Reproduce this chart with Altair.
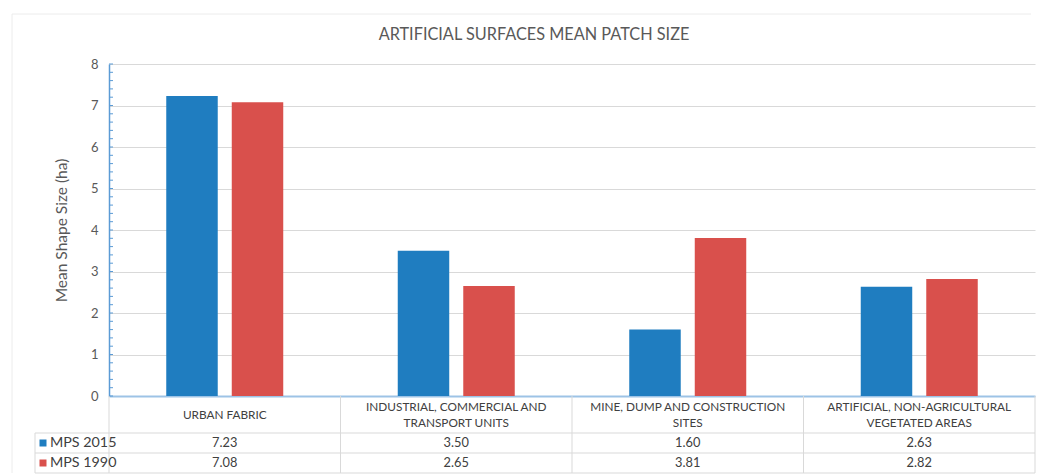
import altair as alt
import pandas as pd

# ---- data -----------------------------------------------------------------
categories = [
    "URBAN FABRIC",
    "INDUSTRIAL, COMMERCIAL AND TRANSPORT UNITS",
    "MINE, DUMP AND CONSTRUCTION SITES",
    "ARTIFICIAL, NON-AGRICULTURAL VEGETATED AREAS",
]
header_labels = [
    "URBAN FABRIC",
    "INDUSTRIAL, COMMERCIAL AND\nTRANSPORT UNITS",
    "MINE, DUMP AND CONSTRUCTION\nSITES",
    "ARTIFICIAL, NON-AGRICULTURAL\nVEGETATED AREAS",
]
series = ["MPS 2015", "MPS 1990"]
mps_2015 = [7.23, 3.50, 1.60, 2.63]
mps_1990 = [7.08, 2.65, 3.81, 2.82]
y_major = [0, 1, 2, 3, 4, 5, 6, 7, 8]
y_minor = [round(i * 0.2, 1) for i in range(41)]

colors = ["#1f7dc0", "#d9504c"]
FONT = "Lato"
TEXT = "#404040"
GRID = "#d9d9d9"
AXIS_BLUE = "#5b9bd5"

W, H = 926, 332          # plot area
HEADER_H, ROW_H = 37, 20  # table rows below the plot

rows = []
for cat, a, b in zip(categories, mps_2015, mps_1990):
    rows.append({"category": cat, "series": series[0], "value": a})
    rows.append({"category": cat, "series": series[1], "value": b})
df = pd.DataFrame(rows)
cat_df = pd.DataFrame({"category": categories, "label": header_labels})
tick_df = pd.DataFrame({"v": y_minor})
legend_df = pd.DataFrame({"series": series})

x_enc = alt.X(
    "category:N",
    sort=categories,
    scale=alt.Scale(paddingInner=0, paddingOuter=0),
    axis=alt.Axis(labels=False, ticks=False, title=None,
                  domainColor="#9dc3e6", domainWidth=2),
)
y_scale = alt.Scale(domain=[0, 8], nice=False)
color_scale = alt.Scale(domain=series, range=colors)

bars = alt.Chart(df).mark_bar().encode(
    x=x_enc,
    xOffset=alt.XOffset("series:N", sort=series,
                        scale=alt.Scale(paddingInner=0.214, paddingOuter=0.874)),
    y=alt.Y("value:Q", scale=y_scale,
            axis=alt.Axis(values=y_major, title="Mean Shape Size (ha)",
                          grid=True, gridColor=GRID, ticks=False,
                          domainColor=AXIS_BLUE, domainWidth=1.5,
                          labelColor="#595959", labelFontSize=13, labelPadding=11,
                          titleColor="#595959", titleFontSize=15.5, titleFontWeight="normal",
                          titleX=-48, titleY=166, titleAngle=-90,
                          titleAlign="center", titleBaseline="middle")),
    color=alt.Color("series:N", scale=color_scale, legend=None),
)

# small inside ticks along the value axis
minor_ticks = alt.Chart(tick_df).mark_rule(color=AXIS_BLUE, strokeWidth=1).encode(
    y=alt.Y("v:Q", scale=y_scale),
    x=alt.value(0), x2=alt.value(4),
)


def line(x1, x2, y1, y2, color=GRID):
    return alt.Chart(alt.Data(values=[{}])).mark_rule(color=color, strokeWidth=1).encode(
        x=alt.value(x1), x2=alt.value(x2), y=alt.value(y1), y2=alt.value(y2))


r1 = H + HEADER_H
r2 = r1 + ROW_H
r3 = r2 + ROW_H
LEG_X = -74

table_lines = [
    line(LEG_X, W, r1, r1),
    line(LEG_X, W, r2, r2),
    line(LEG_X, W, r3, r3),
    line(LEG_X, LEG_X, r1, r3),
    line(W, W, H, r3),
]
col_lines = alt.Chart(cat_df).mark_rule(color=GRID, strokeWidth=1).encode(
    x=alt.X("category:N", sort=categories, bandPosition=0),
    y=alt.value(H), y2=alt.value(r3),
)

# outer chart frame
frame = [
    line(-97, W - 4, -50, -50, "#ececec"),
    line(-97, -97, -50, r3, "#ececec"),
]

# category names in the table header: one- and two-line labels centred in the row
LINE_H = 16
header_text = dict(font=FONT, fontSize=11.8, color=TEXT, lineBreak="\n",
                   lineHeight=LINE_H, baseline="middle", align="center")
header_one = alt.Chart(cat_df).transform_filter(
    "indexof(datum.label, '\\n') < 0"
).mark_text(**header_text).encode(
    x=alt.X("category:N", sort=categories),
    y=alt.value(H + HEADER_H / 2),
    text="label:N",
)
header_two = alt.Chart(cat_df).transform_filter(
    "indexof(datum.label, '\\n') >= 0"
).mark_text(**header_text).encode(
    x=alt.X("category:N", sort=categories),
    y=alt.value(H + HEADER_H / 2 - LINE_H / 2),
    text="label:N",
)

value_rows = []
for i, s in enumerate(series):
    value_rows.append(
        alt.Chart(df).transform_filter(alt.datum.series == s).mark_text(
            font=FONT, fontSize=12.8, color=TEXT, baseline="middle", align="center",
        ).encode(
            x=alt.X("category:N", sort=categories),
            y=alt.value(r1 + ROW_H * i + ROW_H / 2),
            text=alt.Text("value:Q", format=".2f"),
        )
    )

legend_marks = []
for i, s in enumerate(series):
    yc = r1 + ROW_H * i + ROW_H / 2
    legend_marks.append(
        alt.Chart(legend_df).transform_filter(alt.datum.series == s)
        .mark_square(size=49, opacity=1, filled=True)
        .encode(x=alt.value(LEG_X + 8), y=alt.value(yc),
                color=alt.Color("series:N", scale=color_scale, legend=None))
    )
    legend_marks.append(
        alt.Chart(legend_df).transform_filter(alt.datum.series == s)
        .mark_text(font=FONT, fontSize=14.3, color=TEXT, align="left", baseline="middle")
        .encode(x=alt.value(LEG_X + 15), y=alt.value(yc), text="series:N")
    )

title = alt.Chart(alt.Data(values=[{}])).mark_text(
    font=FONT, fontSize=16.3, color="#595959", align="center", baseline="middle",
).encode(x=alt.value(425), y=alt.value(-29), text=alt.value("ARTIFICIAL SURFACES MEAN PATCH SIZE"))

chart = alt.layer(
    *frame, bars, minor_ticks, *table_lines, col_lines, header_one, header_two,
    *value_rows, *legend_marks, title
).properties(
    width=W, height=H,
    padding={"left": 11, "top": 13, "right": 0, "bottom": 0},
).configure_view(stroke=None).configure_axis(labelFont=FONT, titleFont=FONT)

chart.save("out.html", embed_options={"renderer": "svg", "actions": False})
